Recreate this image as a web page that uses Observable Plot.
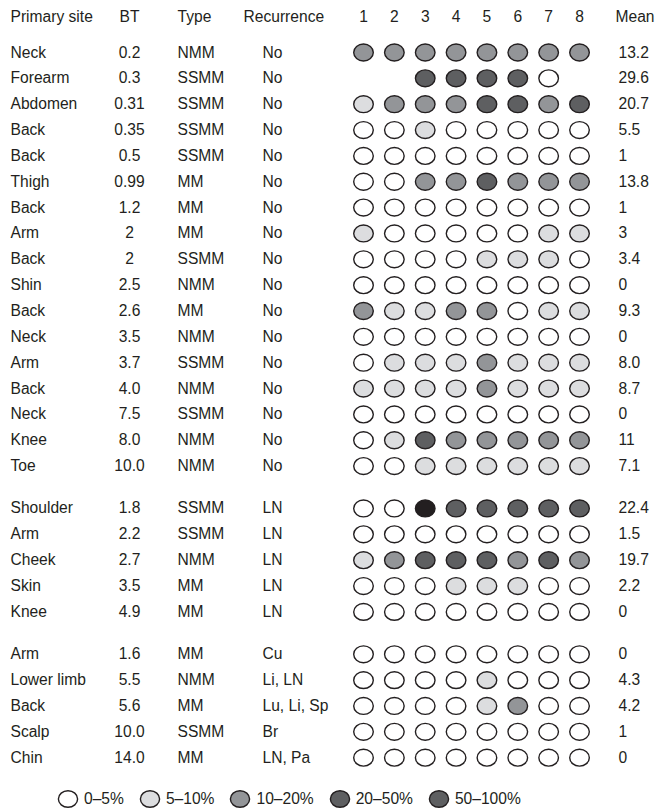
<!DOCTYPE html>
<html>
<head>
<meta charset="utf-8">
<script src="https://cdn.jsdelivr.net/npm/d3@7"></script>
<script src="https://cdn.jsdelivr.net/npm/@observablehq/plot@0.6"></script>
<style>
  html, body { margin: 0; padding: 0; background: #fff; }
  #chart svg { display: block; }
  .legend { display: flex; align-items: center; height: 28px; padding-left: 57px;
    font-family: "Liberation Sans", Arial, sans-serif; font-size: 15.6px; color: #231f20; }
  .legend .item { display: flex; align-items: center; margin-right: 15px; }
  .legend svg { margin-right: 5px; }
</style>
</head>
<body>
<div id="chart"></div>
<div class="legend" id="legend"></div>
<script>
// ---------------- data ----------------
const headers = ["Primary site", "BT", "Type", "Recurrence", "Mean"];
const subjects = ["1", "2", "3", "4", "5", "6", "7", "8"];
const sites = ["Neck","Forearm","Abdomen","Back","Back","Thigh","Back","Arm","Back","Shin","Back","Neck","Arm","Back","Neck","Knee","Toe",
  "Shoulder","Arm","Cheek","Skin","Knee",
  "Arm","Lower limb","Back","Scalp","Chin"];
const bt = ["0.2","0.3","0.31","0.35","0.5","0.99","1.2","2","2","2.5","2.6","3.5","3.7","4.0","7.5","8.0","10.0",
  "1.8","2.2","2.7","3.5","4.9",
  "1.6","5.5","5.6","10.0","14.0"];
const types = ["NMM","SSMM","SSMM","SSMM","SSMM","MM","MM","MM","SSMM","NMM","MM","NMM","SSMM","NMM","SSMM","NMM","NMM",
  "SSMM","SSMM","NMM","MM","MM",
  "MM","NMM","MM","SSMM","MM"];
const recurrence = ["No","No","No","No","No","No","No","No","No","No","No","No","No","No","No","No","No",
  "LN","LN","LN","LN","LN",
  "Cu","Li, LN","Lu, Li, Sp","Br","LN, Pa"];
const groups = [0,0,0,0,0,0,0,0,0,0,0,0,0,0,0,0,0, 1,1,1,1,1, 2,2,2,2,2];
const means = ["13.2","29.6","20.7","5.5","1","13.8","1","3","3.4","0","9.3","0","8.0","8.7","0","11","7.1",
  "22.4","1.5","19.7","2.2","0",
  "0","4.3","4.2","1","0"];
// level per subject: 0 = 0–5%, 1 = 5–10%, 2 = 10–20%, 3 = 20–50%, 4 = 50–100%, null = not assessed
const levels = [
  [2,2,2,2,2,2,2,2],
  [null,null,3,3,3,3,0,null],
  [1,2,2,2,3,3,2,3],
  [0,0,1,0,0,0,0,0],
  [0,0,0,0,0,0,0,0],
  [0,0,2,2,3,2,2,2],
  [0,0,0,0,0,0,0,0],
  [1,0,0,0,0,0,1,1],
  [0,0,0,0,1,1,1,0],
  [0,0,0,0,0,0,0,0],
  [2,1,1,2,2,0,1,1],
  [0,0,0,0,0,0,0,0],
  [0,1,1,1,2,1,1,1],
  [1,1,1,1,2,1,1,1],
  [0,0,0,0,0,0,0,0],
  [0,1,3,2,2,2,2,2],
  [0,0,1,1,1,1,1,1],
  [0,0,4,3,3,3,3,3],
  [0,0,0,0,0,0,0,0],
  [1,2,3,3,3,2,3,2],
  [0,0,0,1,1,1,0,0],
  [0,0,0,0,0,0,0,0],
  [0,0,0,0,0,0,0,0],
  [0,0,0,0,1,0,0,0],
  [0,0,0,0,1,2,0,0],
  [0,0,0,0,0,0,0,0],
  [0,0,0,0,0,0,0,0]
];
const levelLabels = ["0–5%", "5–10%", "10–20%", "20–50%", "50–100%"];

// ---------------- styles / layout ----------------
const levelColors = ["#ffffff", "#dcdddf", "#939598", "#5e5f61", "#231f20"];
const legendColors = ["#ffffff", "#dcdddf", "#939598", "#5e5f61", "#5e5f61"];
const ink = "#231f20";
const font = "Liberation Sans, Arial, Helvetica, sans-serif";
const fontSize = 15.6;
const W = 657, H = 785;
const firstColPx = 363, colStepPx = 30.86;   // subject column geometry
const rowTopPx = 52, rowStepPx = 25.85, groupGap = 0.64, headerRow = -1.39;
const textColPx = {site: 10, bt: 129, type: 177, rec: 262, recHead: 243, mean: 618, meanHead: 615};
const u = px => 1 + (px - firstColPx) / colStepPx;   // pixel -> x-scale units

// ---------------- derived tables ----------------
const rows = sites.map((s, i) => ({
  site: s, bt: bt[i], type: types[i], rec: recurrence[i], mean: means[i],
  pos: i + groups[i] * groupGap
}));
const cells = [];
levels.forEach((row, i) => row.forEach((lv, j) => {
  if (lv !== null) cells.push({col: +subjects[j], pos: rows[i].pos, level: levelLabels[lv]});
}));
const headerCells = [
  {text: headers[0], x: u(textColPx.site), anchor: "start"},
  {text: headers[1], x: u(textColPx.bt), anchor: "middle"},
  {text: headers[2], x: u(textColPx.type), anchor: "start"},
  {text: headers[3], x: u(textColPx.recHead), anchor: "start"},
  ...subjects.map(s => ({text: s, x: +s, anchor: "middle"})),
  {text: headers[4], x: u(textColPx.meanHead), anchor: "start"}
];

// ellipse symbol (slightly wider than tall, as in the original)
const ellipse = {
  draw(ctx, size) {
    const r = Math.sqrt(size / Math.PI), rx = r, ry = r * 0.86, k = 0.5523;
    ctx.moveTo(rx, 0);
    ctx.bezierCurveTo(rx, ry * k, rx * k, ry, 0, ry);
    ctx.bezierCurveTo(-rx * k, ry, -rx, ry * k, -rx, 0);
    ctx.bezierCurveTo(-rx, -ry * k, -rx * k, -ry, 0, -ry);
    ctx.bezierCurveTo(rx * k, -ry, rx, -ry * k, rx, 0);
    ctx.closePath();
  }
};

const txt = {fill: ink, fontSize, fontFamily: font, lineAnchor: "middle", fontWeight: "normal"};

const chart = Plot.plot({
  width: W, height: H,
  margin: 0,
  style: {fontFamily: font, background: "#fff"},
  x: {domain: [u(0), u(W)], range: [0, W], axis: null},
  y: {domain: [-rowTopPx / rowStepPx, (H - rowTopPx) / rowStepPx], range: [0, H], axis: null},
  color: {type: "ordinal", domain: levelLabels, range: levelColors},
  marks: [
    ...["start", "middle"].map(a => Plot.text(headerCells.filter(d => d.anchor === a),
      {x: "x", y: () => headerRow, text: "text", textAnchor: a, ...txt})),
    Plot.text(rows, {x: () => u(textColPx.site), y: "pos", text: "site", textAnchor: "start", ...txt}),
    Plot.text(rows, {x: () => u(textColPx.bt), y: "pos", text: "bt", textAnchor: "middle", ...txt}),
    Plot.text(rows, {x: () => u(textColPx.type), y: "pos", text: "type", textAnchor: "start", ...txt}),
    Plot.text(rows, {x: () => u(textColPx.rec), y: "pos", text: "rec", textAnchor: "start", ...txt}),
    Plot.text(rows, {x: () => u(textColPx.mean), y: "pos", text: "mean", textAnchor: "start", ...txt}),
    Plot.dot(cells, {x: "col", y: "pos", fill: "level", r: 9.8, symbol: ellipse,
      stroke: ink, strokeWidth: 1.4})
  ]
});
document.getElementById("chart").appendChild(chart);

// legend below the chart
const leg = document.getElementById("legend");
levelLabels.forEach((lab, i) => {
  const item = document.createElement("div");
  item.className = "item";
  item.innerHTML = `<svg width="22" height="20" viewBox="-11 -10 22 20"><ellipse rx="9.6" ry="8.3" fill="${legendColors[i]}" stroke="${ink}" stroke-width="1.4"/></svg><span>${lab}</span>`;
  leg.appendChild(item);
});
</script>
</body>
</html>
